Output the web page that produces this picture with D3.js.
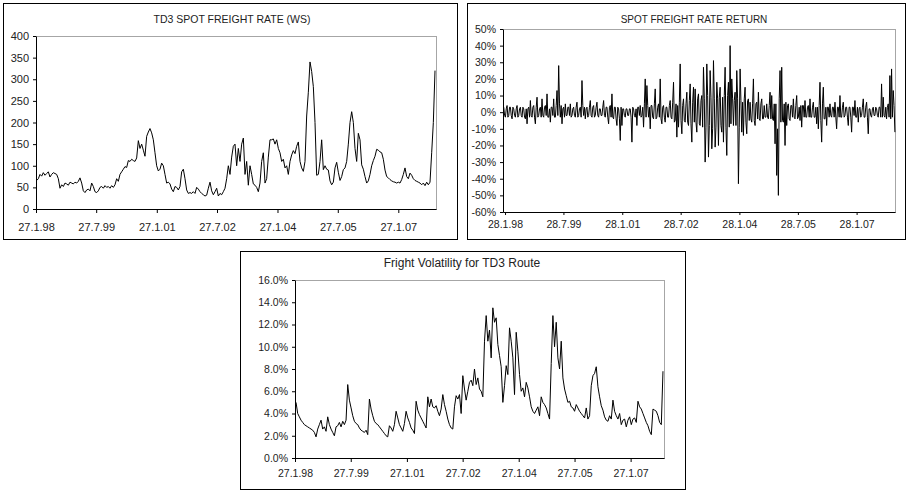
<!DOCTYPE html>
<html lang="en">
<head>
<meta charset="UTF-8">
<title>TD3 freight charts</title>
<script src="https://cdnjs.cloudflare.com/ajax/libs/d3/7.8.5/d3.min.js"></script>
<style>
  body { margin: 0; background: #fff; }
</style>
</head>
<body>
<svg id="chart" width="907" height="490"></svg>
<script>
// values, roughly one every two weeks

// TD3 spot freight rate (WS)
var rateStart = "2.2.98", rateEnd = "26.12.07";
var rateValues = [
  66, 70, 80, 76, 84, 78, 82, 86, 74, 80,
  84, 82, 80, 70, 48, 56, 52, 60, 58, 55,
  62, 60, 58, 62, 60, 64, 72, 60, 42, 38,
  44, 46, 42, 60, 52, 40, 38, 42, 50, 52,
  48, 54, 50, 52, 48, 54, 50, 56, 70, 64,
  80, 86, 92, 98, 96, 112, 110, 115, 112, 110,
  118, 158, 140, 150, 136, 122, 168, 178, 186, 176,
  160, 130, 100, 88, 92, 106, 100, 80, 60, 62,
  58, 46, 40, 52, 50, 44, 52, 86, 92, 70,
  44, 36, 38, 36, 40, 36, 50, 46, 40, 36,
  33, 30, 32, 48, 62, 42, 33, 40, 48, 30,
  36, 33, 40, 48, 70, 100, 80, 120, 145, 150,
  100, 140, 110, 150, 164, 80, 110, 55, 100, 80,
  58, 55, 50, 40, 60, 110, 130, 60, 70, 120,
  160, 160, 162, 150, 160, 140, 130, 110, 115, 95,
  100, 80, 110, 125, 135, 128, 145, 155, 110, 95,
  87, 110, 215, 270, 340, 318, 283, 200, 78, 80,
  110, 160, 91, 100, 92, 90, 65, 56, 62, 95,
  108, 85, 66, 75, 91, 95, 110, 150, 200, 225,
  200, 140, 110, 175, 160, 102, 92, 75, 60, 65,
  80, 100, 112, 122, 138, 136, 132, 130, 115, 90,
  75, 72, 68, 65, 63, 62, 60, 62, 60, 68,
  80, 95, 75, 70, 83, 78, 70, 66, 64, 62,
  60, 56, 60, 54, 62, 56, 62, 130, 200, 320
];
var rateTicks = ["27.1.98", "27.7.99", "27.1.01", "27.7.02", "27.1.04", "27.7.05", "27.1.07"];
var rateYTicks = [0, 50, 100, 150, 200, 250, 300, 350, 400];

// spot freight rate return, in %
// returnValues: main readings incl. spikes; returnMid: band readings in between
var returnStart = "16.1.98", returnEnd = "21.1.08";
var returnValues = [
  3, -3, 4, -2, 3, -4, 2, -3, 4, -2,
  3, -3, 2, -4, -7, 3, 7, -3, 4, -7,
  9, -2, 3, 8, -3, 4, 11, -3, -6, 3,
  8, -3, 13, 28, -3, -7, 3, 5, -2, 3,
  5, -2, 3, -3, 6, -2, 3, 19, -2, -4,
  3, -2, 7, -3, 4, -2, 6, -3, 2, -2,
  7, -3, 3, -7, 4, 11, -4, 3, -8, 2,
  -17, -8, 2, -3, 2, -2, 2, -18, 2, -3,
  -8, 3, 4, -2, -9, 20, 16, -3, -10, 4,
  -4, 14, -3, 5, 20, -7, 4, -6, 3, -3,
  7, -4, 18, -5, -15, -9, 29, -13, 8, -6,
  12, -8, 17, -18, 15, 14, -12, 11, -8, 10,
  27, -30, 29, -27, 25, -22, 31, -21, 18, -20,
  15, -12, -18, 27, -26, 18, 40, 20, -8, 12,
  25, -43, 26, -12, -14, 15, -13, 8, 6, -6,
  20, -8, 6, 12, -5, 8, -4, -3, 5, -4,
  12, 10, -5, -19, -38, -50, 25, 27, -6, -20,
  -8, 5, -5, 4, 8, -4, 10, -3, -5, -9,
  4, 7, -3, 4, 8, -3, 6, -3, -7, -10,
  18, -18, 15, -4, -8, 3, 5, -3, 3, 6,
  -10, 3, 10, -3, 6, -2, 3, -8, 3, -12,
  3, 7, -3, -6, 3, -2, 8, -3, 6, -13,
  2, -3, 3, -2, 2, -3, 3, 17, 9, -3,
  -4, 5, 22, 26, 13, -12
];
var returnMid = [
  -2, 2, -3, 3, -2, 3, -2, 2, -3, 2,
  -2, 3, -3, 2, 2, -3, -2, 3, -3, 3,
  -3, 2, -3, -2, 3, -2, -3, 2, 3, -2,
  -3, 4, -2, 5, 4, 2, -3, -2, 3, -2,
  -3, 2, -2, 3, -3, 2, -3, 4, 3, 2,
  -3, 3, -2, 3, -3, 3, -2, 2, -2, 3,
  -2, 3, -3, 3, -3, -3, 3, -4, 3, -4,
  3, 2, -2, 2, -2, 2, -3, 3, -2, 2,
  3, -2, -3, 3, 5, -3, 4, 3, 4, -3,
  5, -4, 3, -3, -4, 3, -3, 3, -3, 4,
  -3, 6, -6, 5, 4, 6, -5, 4, -5, 5,
  -6, 7, -7, 6, -6, -6, 8, -7, 7, -9,
  8, -9, 10, -8, 9, -10, 8, -9, 8, 9,
  -8, 9, 10, -9, 10, -9, -7, 8, 7, -8,
  8, -9, 7, 6, 8, -6, 7, -5, -4, 5,
  -5, 5, -4, -4, 5, -4, 4, -3, -3, 4,
  -4, -4, 5, 5, -10, 8, -6, -5, 5, 6,
  4, -4, 4, -3, -3, 4, -4, 3, 4, 4,
  -3, -3, 3, -3, -3, 3, -3, 3, 3, 4,
  -5, 5, -4, 3, 3, -3, -2, 3, -3, -3,
  3, -3, -3, 3, -3, 3, -3, 3, -3, 3,
  -2, -3, 3, 2, -3, 3, -3, 3, -3, 2,
  -2, 2, -2, 3, -2, 3, -3, -3, -2, 3,
  3, -3, -4, -3, 4
];
var returnTicks = ["28.1.98", "28.7.99", "28.1.01", "28.7.02", "28.1.04", "28.7.05", "28.1.07"];
var returnYTicks = [-60, -50, -40, -30, -20, -10, 0, 10, 20, 30, 40, 50];

// freight volatility, in %
var volStart = "6.2.98", volEnd = "10.12.07";
var volValues = [
  5.0, 4.0, 3.7, 3.4, 3.2, 3.0, 2.9, 2.8, 2.7, 2.6,
  2.5, 2.3, 1.9, 2.6, 3.0, 3.4, 2.6, 2.8, 2.4, 3.7,
  3.0, 2.6, 2.3, 2.0, 2.8, 2.9, 3.2, 2.8, 3.3, 3.0,
  3.4, 6.6, 5.2, 4.5, 3.8, 3.3, 3.1, 3.0, 2.7, 2.5,
  2.4, 2.3, 2.5, 2.1, 5.3, 4.4, 3.8, 3.3, 3.1, 3.0,
  2.8, 2.6, 2.4, 2.2, 2.0, 1.9, 2.9, 2.7, 2.4, 3.0,
  4.2, 3.6, 3.0, 2.7, 2.4, 3.1, 4.2, 3.6, 3.2, 2.7,
  2.5, 2.2, 5.1, 4.3, 3.9, 3.6, 3.3, 3.0, 2.7, 5.5,
  4.6, 5.3, 4.6, 4.5, 4.7, 4.2, 3.8, 4.4, 5.7, 4.8,
  4.2, 3.5, 3.0, 2.7, 2.6, 4.6, 5.6, 5.3, 5.7, 4.0,
  7.4, 6.2, 5.2, 6.0, 6.8, 7.0, 6.5, 8.0, 6.6, 7.2,
  6.2, 6.0, 5.5, 10.5, 12.8, 10.5, 11.5, 9.0, 13.5, 12.2,
  12.6, 10.2, 9.2, 8.2, 5.0, 6.5, 8.3, 7.5, 11.7, 10.5,
  9.0, 5.7, 11.3, 9.6, 7.5, 6.0, 6.3, 5.5, 6.8, 6.3,
  5.5, 4.6, 4.2, 4.0, 4.3, 4.6, 3.8, 5.5, 5.0, 4.8,
  4.5, 4.0, 3.5, 8.5, 12.8, 10.0, 12.2, 9.0, 8.0, 10.5,
  7.2, 6.2, 5.6, 5.0, 5.1, 4.6, 4.5, 4.2, 4.8, 4.5,
  4.2, 4.0, 3.8, 3.6, 4.5, 3.5, 3.8, 6.5, 7.4, 7.6,
  8.2, 6.4, 5.5, 4.7, 4.3, 3.7, 3.4, 3.3, 3.8, 3.5,
  5.2, 4.2, 3.8, 3.5, 4.0, 3.0, 3.4, 3.5, 2.8, 3.4,
  3.7, 3.0, 3.5, 3.6, 3.2, 5.1, 4.6, 4.4, 4.0, 3.6,
  3.2, 2.9, 2.4, 2.1, 4.4, 4.3, 4.2, 3.8, 3.2, 3.0,
  7.8
];
var volTicks = ["27.1.98", "27.7.99", "27.1.01", "27.7.02", "27.1.04", "27.7.05", "27.1.07"];
var volYTicks = [0, 2, 4, 6, 8, 10, 12, 14, 16];

var FONT = '"Liberation Sans", Arial, sans-serif';
var svg = d3.select("#chart");
var parse = d3.timeParse("%d.%m.%y");
var fmtDate = d3.timeFormat("%-d.%-m.%y");

// points are evenly spaced in time between first and last date
function seriesDates(start, end, n) {
    var a = parse(start), b = parse(end);
    return d3.range(n).map(function (i) { return new Date(+a + (b - a) * i / (n - 1)); });
}

// main readings with the in-between band readings slotted in
var returnAll = [];
returnValues.forEach(function (v, i) {
    returnAll.push(v);
    if (i < returnMid.length) returnAll.push(returnMid[i]);
});

function panel(p) {
    var g = svg.append("g");
    var f = p.frame, pl = p.plot;

    g.append("rect")
        .attr("x", f[0] + 0.5).attr("y", f[1] + 0.5)
        .attr("width", f[2] - f[0]).attr("height", f[3] - f[1])
        .attr("fill", "#fff").attr("stroke", "#000");

    var x = d3.scaleTime()
        .domain([parse(p.domain[0]), parse(p.domain[1])])
        .range([pl[0], pl[2]]);
    var y = d3.scaleLinear().domain(p.yDomain).range([pl[3], pl[1]]);

    // plot area border (grey), axes go on top of it
    g.append("rect")
        .attr("x", pl[0] + 0.5).attr("y", pl[1] + 0.5)
        .attr("width", pl[2] - pl[0]).attr("height", pl[3] - pl[1])
        .attr("fill", "none").attr("stroke", "#a6a6a6");

    g.append("text")
        .attr("x", p.title[1]).attr("y", p.title[2])
        .attr("text-anchor", "middle").attr("dominant-baseline", "central")
        .attr("font-family", FONT).attr("font-size", p.title[3])
        .attr("fill", "#222")
        .text(p.title[0]);

    var dates = seriesDates(p.start, p.end, p.values.length);
    var line = d3.line()
        .x(function (d, i) { return x(dates[i]); })
        .y(function (d) { return y(d); });

    g.append("path")
        .datum(p.values)
        .attr("fill", "none")
        .attr("stroke", "#000")
        .attr("stroke-width", 1)
        .attr("d", line);

    var xa = g.append("g")
        .attr("transform", "translate(0," + pl[3] + ")")
        .call(d3.axisBottom(x)
            .tickValues(p.xTicks.map(parse))
            .tickFormat(fmtDate)
            .tickSize(p.xTickSize[0]).tickPadding(p.xTickSize[1])
            .tickSizeOuter(0));

    var ya = g.append("g")
        .attr("transform", "translate(" + pl[0] + ",0)")
        .call(d3.axisLeft(y)
            .tickValues(p.yTicks)
            .tickFormat(p.yFormat)
            .tickSize(3).tickPadding(4)
            .tickSizeOuter(0));

    [xa, ya].forEach(function (a) {
        a.attr("font-family", FONT).attr("font-size", p.tickFont).attr("color", "#000");
        a.selectAll("text").attr("fill", "#222");
    });
}

panel({
    frame: [3, 3, 457, 239],
    plot: [36, 36, 436, 209],
    title: ["TD3 SPOT FREIGHT RATE (WS)", 232, 19, 10.5],
    domain: ["27.1.98", "4.1.08"],
    yDomain: [0, 400],
    start: rateStart, end: rateEnd, values: rateValues,
    xTicks: rateTicks, yTicks: rateYTicks,
    yFormat: function (d) { return d; },
    xTickSize: [4, 10],
    tickFont: 11
});

panel({
    frame: [467, 3, 905, 239],
    plot: [503, 29, 895, 212],
    title: ["SPOT FREIGHT RATE RETURN", 694, 19, 10],
    domain: ["9.1.98", "22.1.08"],
    yDomain: [-60, 50],
    start: returnStart, end: returnEnd, values: returnAll,
    xTicks: returnTicks, yTicks: returnYTicks,
    yFormat: function (d) { return d + "%"; },
    xTickSize: [3, 6],
    tickFont: 10.5
});

panel({
    frame: [240, 251, 685, 489],
    plot: [295, 280, 664, 458],
    title: ["Fright Volatility for TD3 Route", 462, 263, 12],
    domain: ["27.1.98", "20.12.07"],
    yDomain: [0, 16],
    start: volStart, end: volEnd, values: volValues,
    xTicks: volTicks, yTicks: volYTicks,
    yFormat: function (d) { return d.toFixed(1) + "%"; },
    xTickSize: [4, 8],
    tickFont: 10.5
});
</script>
</body>
</html>
